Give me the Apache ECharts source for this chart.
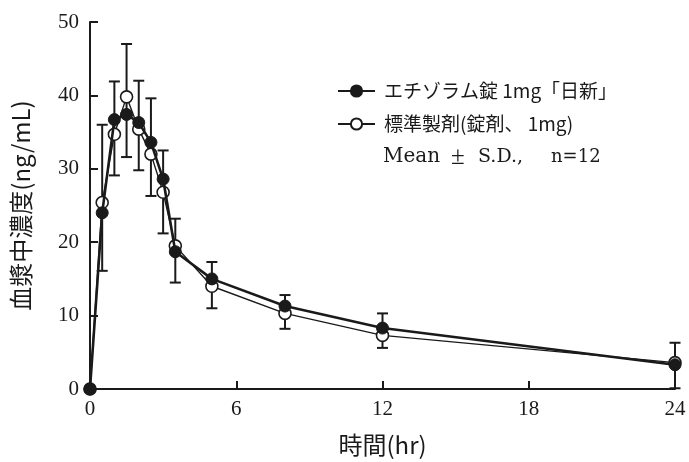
<!DOCTYPE html>
<html>
<head>
<meta charset="utf-8">
<script src="https://cdn.jsdelivr.net/npm/echarts@6/dist/echarts.min.js"></script>
<style>
  html, body { margin: 0; padding: 0; background: #fff; }
  #chart { width: 689px; height: 462px; }
</style>
</head>
<body>
<div id="chart"></div>
<script>
// Sampling times (hr)
const times = [0, 0.5, 1, 1.5, 2, 2.5, 3, 3.5, 5, 8, 12, 24];
// Mean plasma concentration (ng/mL)
const testMean = [0, 24.0, 36.7, 37.4, 36.3, 33.6, 28.6, 18.7, 15.0, 11.3, 8.3, 3.3];
const refMean  = [0, 25.4, 34.7, 39.8, 35.4, 32.0, 26.8, 19.5, 14.0, 10.3, 7.3, 3.6];
// Standard deviations: test drawn as +S.D., reference as -S.D.
const testSD = [0, 12.0, 5.2, 9.6, 5.7, 6.0, 3.9, 4.5, 2.3, 1.5, 2.0, 3.0];
const refSD  = [0, 9.3, 5.6, 8.2, 5.6, 5.7, 5.6, 5.0, 3.0, 2.1, 1.7, 3.5];
// Axis ticks
const xTicks = [0, 6, 12, 18, 24];
const yTicks = [0, 10, 20, 30, 40, 50];
const seriesNames = ['エチゾラム錠 1mg「日新」', '標準製剤(錠剤、 1mg)'];
// Summary note under the legend, one piece per word
const notePieces = ['Mean', '±', 'S.D.,', 'n=12'];

const ink = '#1a1a1a';
const numFont = '"Liberation Serif", "DejaVu Serif", serif';
const jpFont = '"Noto Sans CJK JP", "Noto Sans", sans-serif';
const noteFont = '"DejaVu Serif", "Liberation Serif", serif';

const testData = times.map((t, i) => [t, testMean[i]]);
const refData = times.map((t, i) => [t, refMean[i]]);
const errData = times
  .map((t, i) => [t, refMean[i] - refSD[i], testMean[i] + testSD[i]])
  .filter((d, i) => i > 0);

// x positions and sizes of the note pieces
const noteX = [383, 451, 478, 551];
const noteSize = [20, 25, 19, 18];

const chart = echarts.init(document.getElementById('chart'), null, { renderer: 'canvas' });

chart.setOption({
  animation: false,
  backgroundColor: '#fff',
  grid: { left: 90, right: 14, top: 22, bottom: 72, containLabel: false },
  xAxis: {
    type: 'value',
    min: 0, max: 24, interval: 6,
    name: '時間(hr)',
    nameLocation: 'middle',
    nameGap: 44,
    nameTextStyle: { color: ink, fontSize: 24, fontFamily: jpFont },
    axisLine: { show: true, lineStyle: { color: ink, width: 2 } },
    axisTick: { show: true, inside: true, length: 8, lineStyle: { color: ink, width: 2 } },
    axisLabel: {
      color: ink, fontSize: 21, fontFamily: numFont, margin: 10,
      formatter: v => (xTicks.indexOf(v) >= 0 ? String(v) : '')
    },
    splitLine: { show: false }
  },
  yAxis: {
    type: 'value',
    min: 0, max: 50, interval: 10,
    name: '血漿中濃度(ng/mL)',
    nameLocation: 'middle',
    nameRotate: 90,
    nameGap: 57,
    nameTextStyle: { color: ink, fontSize: 24, fontFamily: jpFont },
    axisLine: { show: true, lineStyle: { color: ink, width: 2 } },
    axisTick: { show: true, inside: true, length: 8, lineStyle: { color: ink, width: 2 } },
    axisLabel: {
      color: ink, fontSize: 21, fontFamily: numFont, margin: 11,
      formatter: v => (yTicks.indexOf(v) >= 0 ? String(v) : '')
    },
    splitLine: { show: false }
  },
  legend: {
    orient: 'vertical',
    left: 332,
    top: 76,
    itemWidth: 37,
    itemHeight: 14,
    itemGap: 13,
    textStyle: { color: ink, fontSize: 19, fontFamily: jpFont, lineHeight: 20, padding: [0, 0, 0, 4] },
    data: [seriesNames[0], seriesNames[1]]
  },
  graphic: notePieces.map((txt, i) => ({
    type: 'text',
    x: noteX[i],
    y: 157,
    style: {
      text: txt,
      fill: ink,
      fontFamily: i === 1 ? numFont : noteFont,
      fontSize: noteSize[i],
      verticalAlign: 'middle'
    }
  })),
  series: [
    {
      name: 'S.D.',
      type: 'custom',
      z: 1,
      data: errData,
      encode: { x: 0, y: [1, 2] },
      renderItem: function (params, api) {
        const x = api.value(0);
        const lo = api.coord([x, api.value(1)]);
        const hi = api.coord([x, api.value(2)]);
        const cap = 5.5;
        const style = { stroke: ink, lineWidth: 2 };
        return {
          type: 'group',
          children: [
            { type: 'line', shape: { x1: lo[0], y1: lo[1], x2: hi[0], y2: hi[1] }, style },
            { type: 'line', shape: { x1: lo[0] - cap, y1: lo[1], x2: lo[0] + cap, y2: lo[1] }, style },
            { type: 'line', shape: { x1: hi[0] - cap, y1: hi[1], x2: hi[0] + cap, y2: hi[1] }, style }
          ]
        };
      }
    },
    {
      name: seriesNames[1],
      type: 'line',
      z: 3,
      data: refData,
      symbol: 'circle',
      symbolSize: 12,
      lineStyle: { color: ink, width: 1.4 },
      itemStyle: { color: '#fff', borderColor: ink, borderWidth: 1.6 }
    },
    {
      name: seriesNames[0],
      type: 'line',
      z: 4,
      data: testData,
      symbol: 'circle',
      symbolSize: 12,
      lineStyle: { color: ink, width: 2.6 },
      itemStyle: { color: ink, borderColor: ink, borderWidth: 1 }
    }
  ]
});
</script>
</body>
</html>
